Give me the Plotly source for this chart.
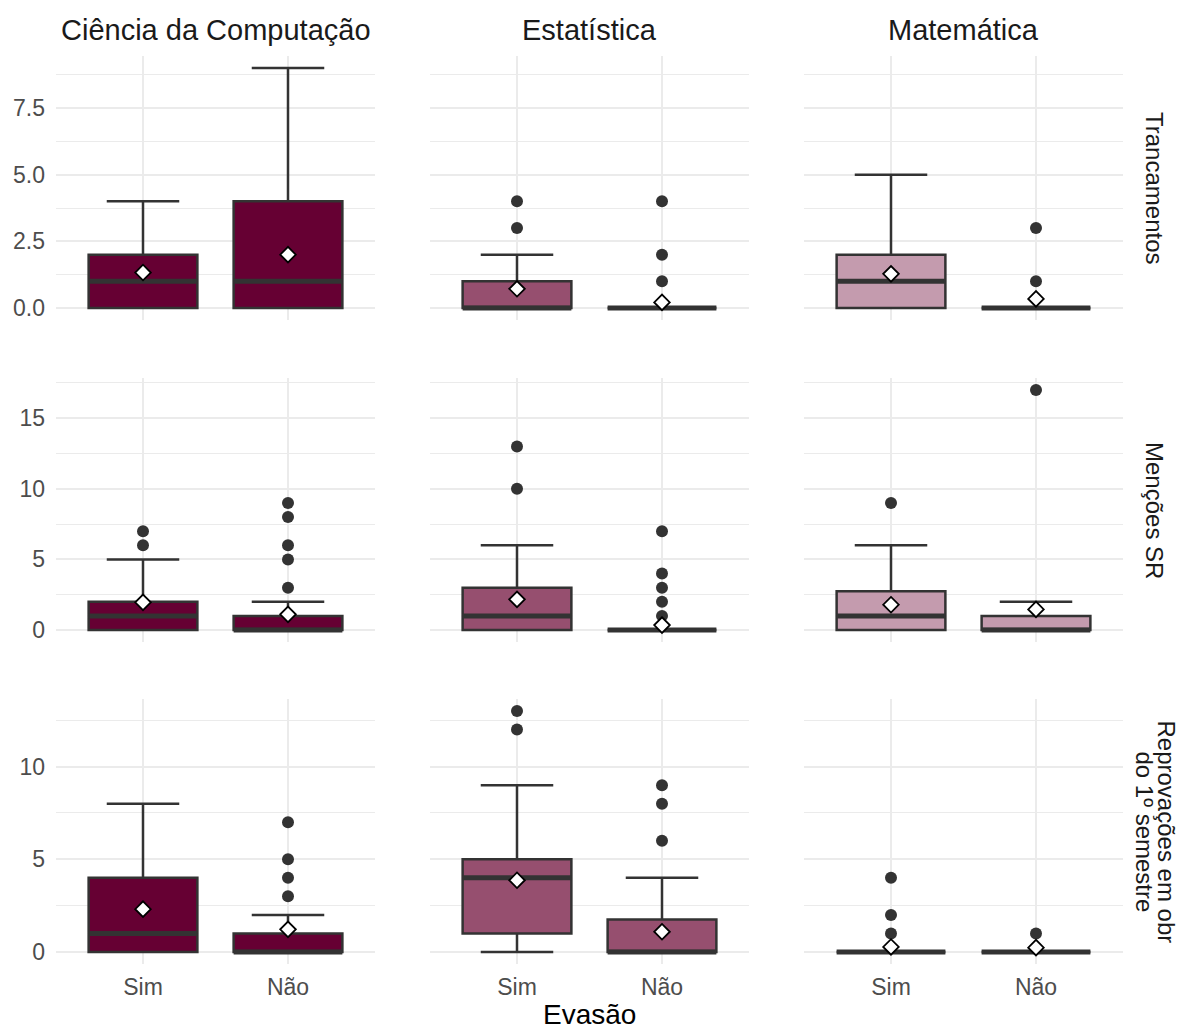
import plotly.graph_objects as go

# Facet labels
COURSES = ["Ciência da Computação", "Estatística", "Matemática"]
MEASURES = ["Trancamentos", "Menções SR", "Reprovações em obr<br>do 1º semestre"]
EVASAO = ["Sim", "Não"]

# Box statistics per measure (row) -> course (column) -> [Sim, Não]
Q1 = [
    [[0, 0], [0, 0], [0, 0]],
    [[0, 0], [0, 0], [0, 0]],
    [[0, 0], [1, 0], [0, 0]],
]
MEDIAN = [
    [[1, 1], [0, 0], [1, 0]],
    [[1, 0], [1, 0], [1, 0]],
    [[1, 0], [4, 0], [0, 0]],
]
Q3 = [
    [[2, 4], [1, 0], [2, 0]],
    [[2, 1], [3, 0], [2.75, 1]],
    [[4, 1], [5, 1.75], [0, 0]],
]
LOWER = [
    [[0, 0], [0, 0], [0, 0]],
    [[0, 0], [0, 0], [0, 0]],
    [[0, 0], [0, 0], [0, 0]],
]
UPPER = [
    [[4, 9], [2, 0], [5, 0]],
    [[5, 2], [6, 0], [6, 2]],
    [[8, 2], [9, 4], [0, 0]],
]
MEAN = [
    [[1.33, 2.0], [0.72, 0.21], [1.28, 0.34]],
    [[1.96, 1.11], [2.17, 0.35], [1.79, 1.46]],
    [[2.31, 1.22], [3.87, 1.09], [0.27, 0.23]],
]
OUTLIERS = [
    [[[], []], [[3, 4], [1, 2, 4]], [[], [1, 3]]],
    [[[6, 7], [3, 5, 6, 8, 9]], [[10, 13], [1, 2, 3, 4, 7]], [[9], [17]]],
    [[[], [3, 4, 5, 7]], [[12, 13], [6, 8, 9]], [[1, 2, 4], [1]]],
]

# Axis ticks per row
Y_TICKS = [[0, 2.5, 5, 7.5], [0, 5, 10, 15], [0, 5, 10]]
Y_TICK_TEXT = [["0.0", "2.5", "5.0", "7.5"], ["0", "5", "10", "15"], ["0", "5", "10"]]

FILLS = ["#660033", "#964F6F", "#C49BAE"]
LINE = "#333333"
GRID = "#EBEBEB"
FONT = "Liberation Sans, Arial, sans-serif"

W, H = 1182, 1030
COL_PX = [(56, 375), (430, 749), (804, 1123)]
ROW_PX = [(56, 320), (378, 642), (699, 964)]
BOX_W = 0.75
CAP_W = 0.5

fig = go.Figure()
layout = dict(
    width=W, height=H, margin=dict(l=0, r=0, t=0, b=0),
    paper_bgcolor="white", plot_bgcolor="white", showlegend=False,
    font=dict(family=FONT),
)
annotations = []

for r in range(3):
    # Shared y range for the row: data extent with 5% padding
    vals = [0.0]
    for c in range(3):
        for g in range(2):
            vals += [UPPER[r][c][g], LOWER[r][c][g], Q3[r][c][g]] + list(OUTLIERS[r][c][g])
    lo, hi = min(vals), max(vals)
    pad = (hi - lo) * 0.05
    yr = [lo - pad, hi + pad]
    step = Y_TICKS[r][1] - Y_TICKS[r][0]
    minor = []
    t = Y_TICKS[r][0] - step / 2
    while t <= yr[1]:
        if t >= yr[0]:
            minor.append(t)
        t += step

    for c in range(3):
        k = r * 3 + c + 1
        xn = "x" if k == 1 else f"x{k}"
        yn = "y" if k == 1 else f"y{k}"
        xa = "xaxis" if k == 1 else f"xaxis{k}"
        ya = "yaxis" if k == 1 else f"yaxis{k}"
        x0, x1 = COL_PX[c]
        y0, y1 = ROW_PX[r]

        layout[xa] = dict(
            domain=[x0 / W, x1 / W], anchor=yn, range=[-0.6, 1.6],
            tickvals=[0, 1], ticktext=EVASAO, showticklabels=(r == 2),
            showgrid=True, gridcolor=GRID, gridwidth=1.8, zeroline=False,
            showline=False, ticks="", ticklabelstandoff=7,
            tickfont=dict(size=23, color="#4D4D4D", family=FONT), fixedrange=True,
        )
        layout[ya] = dict(
            domain=[1 - y1 / H, 1 - y0 / H], anchor=xn, range=yr,
            tickvals=Y_TICKS[r], ticktext=Y_TICK_TEXT[r], showticklabels=(c == 0),
            showgrid=True, gridcolor=GRID, gridwidth=1.8, zeroline=False,
            showline=False, ticks="", ticklabelstandoff=10,
            minor=dict(tickvals=minor, showgrid=True, gridcolor=GRID, gridwidth=1, ticks=""),
            tickfont=dict(size=23, color="#4D4D4D", family=FONT), fixedrange=True,
        )

        xs = [0, 1]
        fig.add_trace(go.Box(
            x=xs, q1=Q1[r][c], median=MEDIAN[r][c], q3=Q3[r][c],
            lowerfence=LOWER[r][c], upperfence=UPPER[r][c],
            width=BOX_W, whiskerwidth=CAP_W / BOX_W, boxpoints=False,
            fillcolor=FILLS[c], line=dict(color=LINE, width=2.5),
            xaxis=xn, yaxis=yn, hoverinfo="skip",
        ))
        # Thicker median bar
        mx, my = [], []
        for i in xs:
            mx += [i - BOX_W / 2, i + BOX_W / 2, None]
            my += [MEDIAN[r][c][i], MEDIAN[r][c][i], None]
        fig.add_trace(go.Scatter(
            x=mx, y=my, mode="lines", line=dict(color=LINE, width=5),
            xaxis=xn, yaxis=yn, hoverinfo="skip",
        ))
        # Outliers
        ox, oy = [], []
        for i in xs:
            ox += [i] * len(OUTLIERS[r][c][i])
            oy += list(OUTLIERS[r][c][i])
        fig.add_trace(go.Scatter(
            x=ox, y=oy, mode="markers",
            marker=dict(color=LINE, size=12, line=dict(width=0)),
            xaxis=xn, yaxis=yn, hoverinfo="skip",
        ))
        # Means
        fig.add_trace(go.Scatter(
            x=xs, y=MEAN[r][c], mode="markers",
            marker=dict(symbol="diamond", color="white", size=12,
                        line=dict(color="black", width=1.8)),
            xaxis=xn, yaxis=yn, hoverinfo="skip",
        ))

# Column strip titles
for c, name in enumerate(COURSES):
    x0, x1 = COL_PX[c]
    annotations.append(dict(
        text=name, x=(x0 + x1) / 2 / W, y=1 - 30 / H, xref="paper", yref="paper",
        xanchor="center", yanchor="middle", showarrow=False,
        font=dict(size=29, color="#1A1A1A", family=FONT),
    ))

# Row strip titles (rotated)
for r, name in enumerate(MEASURES):
    y0, y1 = ROW_PX[r]
    lines = name.split("<br>")
    n = len(lines)
    for j, ln in enumerate(lines):
        xc = 1155 + (n - 1) * 11 - j * 22
        annotations.append(dict(
            text=ln, x=xc / W, y=1 - (y0 + y1) / 2 / H, xref="paper", yref="paper",
            xanchor="center", yanchor="middle", textangle=90, showarrow=False,
            font=dict(size=24, color="#1A1A1A", family=FONT),
        ))

# Shared x-axis title
annotations.append(dict(
    text="Evasão", x=(COL_PX[0][0] + COL_PX[2][1]) / 2 / W, y=1 - 1014 / H,
    xref="paper", yref="paper", xanchor="center", yanchor="middle", showarrow=False,
    font=dict(size=28, color="black", family=FONT),
))

layout["annotations"] = annotations
fig.update_layout(**layout)
fig.write_html("out.html")
